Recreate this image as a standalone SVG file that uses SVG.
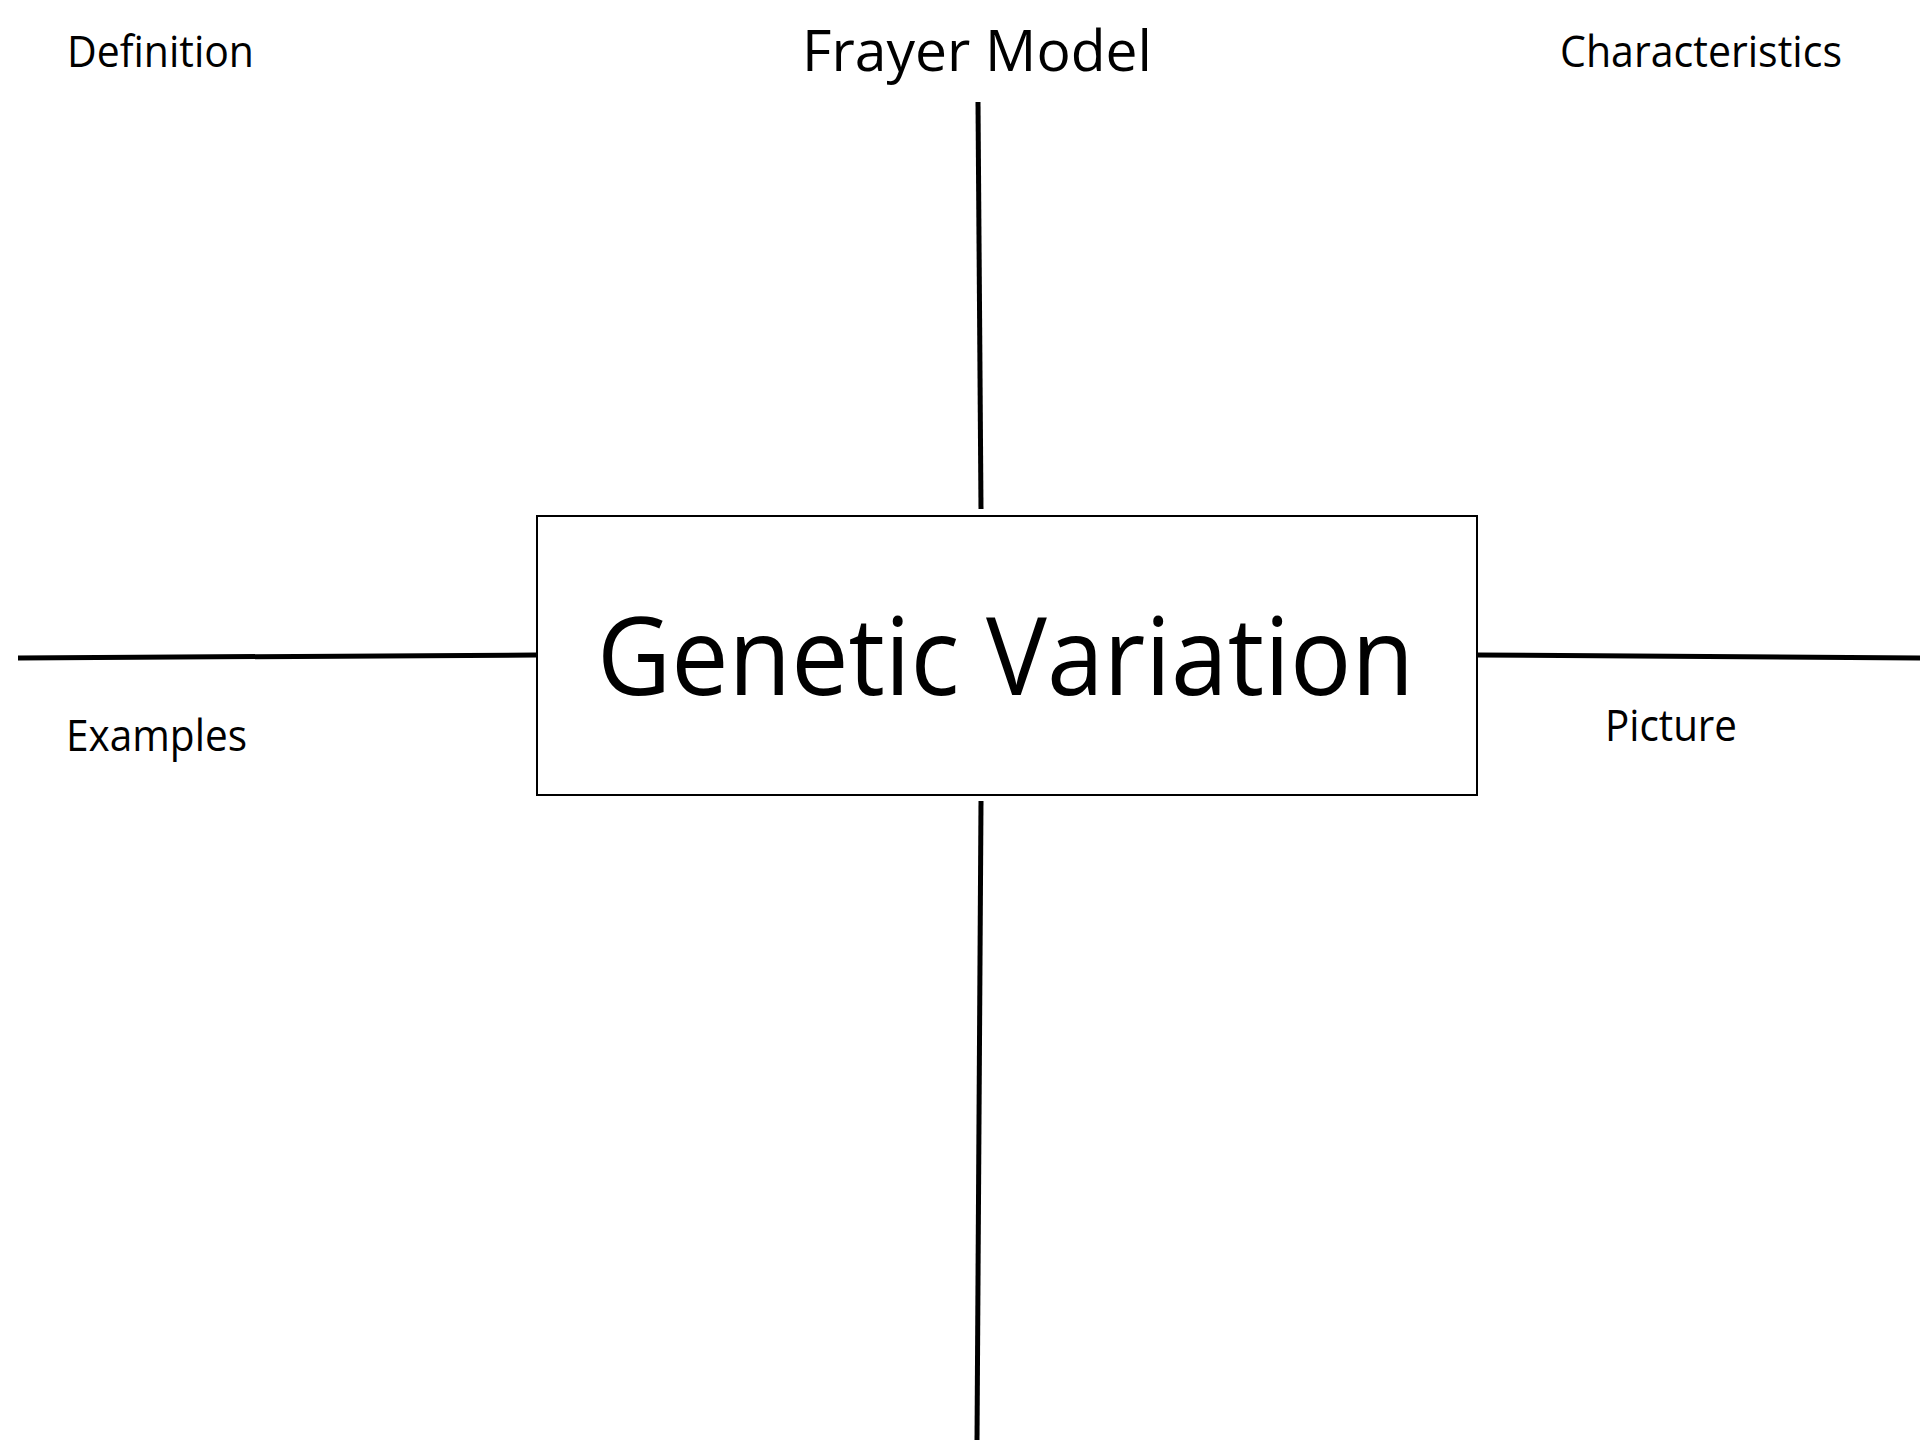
<svg xmlns="http://www.w3.org/2000/svg" width="1920" height="1440" viewBox="0 0 1920 1440">
<style>
.t{font-family:"Open Sans","Liberation Sans",sans-serif;fill:#000}
.lbl{font-size:44px}
.ln{stroke:#000;stroke-width:5;fill:none}
</style>
<rect width="1920" height="1440" fill="#fff"/>
<g id="connectors">
<line class="ln" x1="978" y1="102" x2="981" y2="509"/>
<line class="ln" x1="981" y1="801" x2="977" y2="1440"/>
<line class="ln" x1="18" y1="658" x2="536" y2="655"/>
<line class="ln" x1="1477" y1="655" x2="1920" y2="658"/>
</g>
<g id="title"><text class="t" x="802" y="71" font-size="57" textLength="350" lengthAdjust="spacingAndGlyphs">Frayer Model</text></g>
<g id="definition"><text class="t lbl" x="67" y="67" textLength="187" lengthAdjust="spacingAndGlyphs">Definition</text></g>
<g id="characteristics"><text class="t lbl" x="1560" y="67" textLength="282" lengthAdjust="spacingAndGlyphs">Characteristics</text></g>
<g id="examples"><text class="t lbl" x="66" y="751" textLength="181" lengthAdjust="spacingAndGlyphs">Examples</text></g>
<g id="picture"><text class="t lbl" x="1605" y="741" textLength="132" lengthAdjust="spacingAndGlyphs">Picture</text></g>
<g id="center">
<rect x="537" y="516" width="940" height="279" fill="#fff" stroke="#000" stroke-width="2"/>
<text class="t" x="597" y="695" font-size="108" textLength="817" lengthAdjust="spacingAndGlyphs">Genetic Variation</text>
</g>
</svg>
